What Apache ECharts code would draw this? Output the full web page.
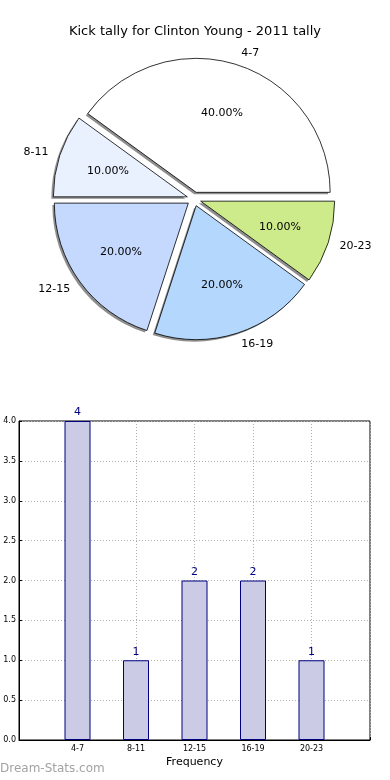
<!DOCTYPE html>
<html>
<head>
<meta charset="utf-8">
<script src="https://cdn.jsdelivr.net/npm/echarts@6/dist/echarts.min.js"></script>
<style>html,body{margin:0;padding:0;background:#fff;}#c{width:390px;height:780px;}</style>
</head>
<body>
<div id="c"></div>
<script>
var categories = ['4-7', '8-11', '12-15', '16-19', '20-23'];
var counts = [4, 1, 2, 2, 1];
var sliceColors = ['#ffffff', '#eaf1fe', '#c5d8fe', '#b4d7fe', '#cdeb8b'];
var yTicks = [0, 0.5, 1, 1.5, 2, 2.5, 3, 3.5, 4];

var FONT = 'DejaVu Sans';
var R = 134;
var CENTER = [194, 199];
var SHADOW_CENTER = [192, 201];

var pieData = categories.map(function (c, i) {
  return { name: c, value: counts[i], selected: true, itemStyle: { color: sliceColors[i] } };
});
var plainData = categories.map(function (c, i) {
  return { name: c, value: counts[i], selected: true };
});
var barCats = [''].concat(categories).concat(['']);
var barVals = ['-'].concat(counts).concat(['-']);

var chart = echarts.init(document.getElementById('c'), null, { renderer: 'canvas' });
chart.setOption({
  animation: false,
  backgroundColor: '#fff',
  title: [{
    text: 'Kick tally for Clinton Young - 2011 tally',
    left: 'center', top: 20,
    textStyle: { fontFamily: FONT, fontSize: 13, fontWeight: 'normal', color: '#000' }
  }],
  graphic: [{
    type: 'text', left: 0, top: 763,
    style: { text: 'Dream-Stats.com', fontFamily: FONT, fontSize: 12, fontWeight: 'normal', fill: '#a3a3a3' }
  }],
  grid: { left: 19, right: 20, top: 421, bottom: 40, show: true, borderColor: '#000', borderWidth: 1, containLabel: false },
  xAxis: {
    type: 'category', data: barCats, boundaryGap: false,
    name: 'Frequency', nameLocation: 'middle', nameGap: 17,
    nameTextStyle: { fontFamily: FONT, fontSize: 11, color: '#000' },
    axisLine: { show: true, lineStyle: { color: '#000' } },
    axisTick: { show: true, inside: true, length: 3, alignWithLabel: true, lineStyle: { color: '#000' } },
    axisLabel: { fontFamily: FONT, fontSize: 8, color: '#000', margin: 5, interval: 0 },
    splitLine: { show: true, lineStyle: { color: '#b0b0b0', type: [1, 2] } }
  },
  yAxis: {
    type: 'value', min: 0, max: 4, interval: 0.5,
    axisLine: { show: true, lineStyle: { color: '#000' } },
    axisTick: { show: true, inside: true, length: 3, lineStyle: { color: '#000' } },
    axisLabel: { fontFamily: FONT, fontSize: 8, color: '#000', margin: 3, formatter: function (v) { return v.toFixed(1); } },
    splitLine: { show: true, lineStyle: { color: '#b0b0b0', type: [1, 2] } }
  },
  series: [
    {
      type: 'pie', center: SHADOW_CENTER, radius: [0, R], z: 1,
      clockwise: false, startAngle: 0,
      selectedMode: 'multiple', selectedOffset: 7,
      avoidLabelOverlap: false, silent: true,
      data: plainData,
      itemStyle: { color: '#8e8e8e', borderWidth: 0 },
      label: { show: false }, labelLine: { show: false },
      emphasis: { disabled: true }
    },
    {
      type: 'pie', center: CENTER, radius: [0, R], z: 2,
      clockwise: false, startAngle: 0,
      selectedMode: 'multiple', selectedOffset: 7,
      avoidLabelOverlap: false, silent: true,
      data: pieData,
      itemStyle: { borderColor: '#000', borderWidth: 0.8 },
      label: { show: true, position: 'outside', fontFamily: FONT, fontSize: 11, color: '#000', formatter: '{b}', distanceToLabelLine: 0 },
      labelLine: { show: false, length: 12, length2: 0 },
      emphasis: { disabled: true }
    },
    {
      type: 'pie', center: CENTER, radius: [R * 0.2, R], z: 3,
      clockwise: false, startAngle: 0,
      selectedMode: 'multiple', selectedOffset: 7,
      avoidLabelOverlap: false, silent: true,
      data: plainData,
      itemStyle: { color: 'rgba(0,0,0,0)', borderWidth: 0 },
      label: { show: true, position: 'inside', fontFamily: FONT, fontSize: 11, color: '#000',
        formatter: function (p) { return p.percent.toFixed(2) + '%'; } },
      labelLine: { show: false },
      emphasis: { disabled: true }
    },
    {
      type: 'bar', data: barVals, barWidth: 26,
      itemStyle: { color: '#cbcbe6', borderColor: '#000080', borderWidth: 1 },
      label: { show: true, position: 'top', fontFamily: FONT, fontSize: 11, color: '#000080', distance: 3 },
      silent: true
    }
  ]
});
</script>
</body>
</html>
